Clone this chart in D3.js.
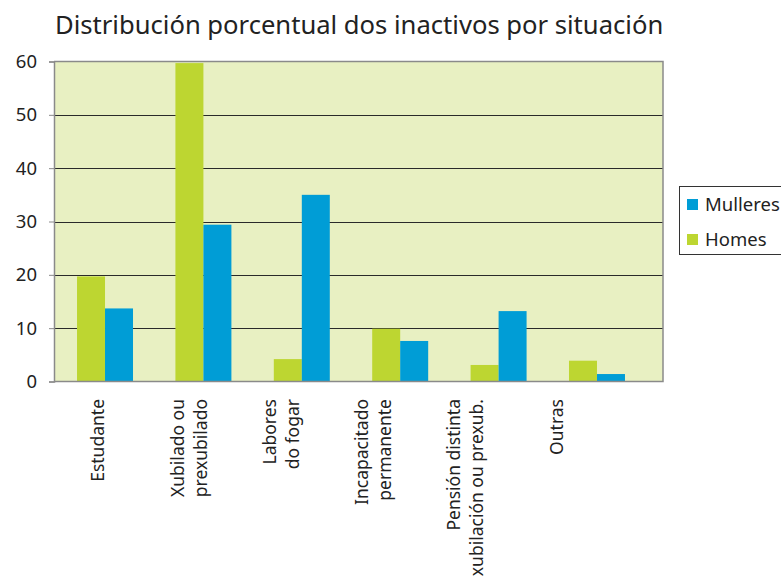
<!DOCTYPE html>
<html>
<head>
<meta charset="utf-8">
<script src="https://cdn.jsdelivr.net/npm/d3@7"></script>
<style>
  body { margin: 0; background: #fff; }
  svg { display: block; font-family: 'Noto Sans', sans-serif; }
</style>
</head>
<body>
<svg id="chart"></svg>
<script>
'use strict';

let WIDTH = 781;
let HEIGHT = 587;

// data
let categories = ['Estudante', 'Xubilado ou prexubilado', 'Labores do fogar',
    'Incapacitado permanente', 'Pensión distinta xubilación ou prexub.', 'Outras'];
let labelLines = [
    ['Estudante'],
    ['Xubilado ou', 'prexubilado'],
    ['Labores', 'do fogar'],
    ['Incapacitado', 'permanente'],
    ['Pensión distinta', 'xubilación ou prexub.'],
    ['Outras']
];
let homes = [19.7, 59.7, 4.2, 9.9, 3.1, 3.9];
let mulleres = [13.7, 29.4, 35.0, 7.6, 13.2, 1.4];
let seriesNames = ['Homes', 'Mulleres'];
let yTicks = [0, 10, 20, 30, 40, 50, 60];

let COLOR = {
    Homes: '#bdd631',
    Mulleres: '#009dd6',
    PLOT: '#e8f0c2'
};

let M = { left: 54, top: 61.5, right: 663, bottom: 381.5 };

let svg = d3.select('#chart').attr('width', WIDTH).attr('height', HEIGHT);

// bar groups do not fill the whole plot width in the original
let x = d3.scaleBand().domain(categories).range([M.left, 648]).paddingInner(0.431).paddingOuter(0.234);
let xs = d3.scaleBand().domain(seriesNames).range([0, x.bandwidth()]);
let y = d3.scaleLinear().domain([0, 60]).range([M.bottom, M.top]);
// the category labels sit on their own, slightly tighter spacing
let xl = d3.scalePoint().domain(categories).range([98, 557]);

// title
svg.append('text')
    .attr('x', 55).attr('y', 34)
    .attr('font-size', 25.6)
    .attr('fill', '#222')
    .text('Distribución porcentual dos inactivos por situación');

// plot background
svg.append('rect')
    .attr('x', M.left).attr('y', M.top)
    .attr('width', M.right - M.left).attr('height', M.bottom - M.top)
    .attr('fill', COLOR.PLOT);

// gridlines
svg.append('g')
    .selectAll('line')
    .data(yTicks.filter(function(d) { return d > 0 && d < 60; }))
    .enter()
    .append('line')
    .attr('x1', M.left).attr('x2', M.right)
    .attr('y1', function(d) { return Math.round(y(d)) + 0.5; })
    .attr('y2', function(d) { return Math.round(y(d)) + 0.5; })
    .attr('stroke', '#2a2a2a');

// bars
let rows = categories.map(function(c, i) {
    return { cat: c, values: [{ s: 'Homes', v: homes[i] }, { s: 'Mulleres', v: mulleres[i] }] };
});
svg.append('g')
    .selectAll('g')
    .data(rows)
    .enter()
    .append('g')
    .attr('transform', function(d) { return 'translate(' + x(d.cat) + ',0)'; })
    .selectAll('rect')
    .data(function(d) { return d.values; })
    .enter()
    .append('rect')
    .attr('x', function(d) { return xs(d.s); })
    .attr('y', function(d) { return y(d.v); })
    .attr('width', xs.bandwidth())
    .attr('height', function(d) { return y(0) - y(d.v); })
    .attr('fill', function(d) { return COLOR[d.s]; });

// plot frame (top, right, bottom)
svg.append('path')
    .attr('d', 'M' + M.left + ',' + M.top + 'H' + M.right + 'V' + M.bottom + 'H' + M.left)
    .attr('fill', 'none')
    .attr('stroke', '#8a8a8a')
    .attr('stroke-width', 1.5);

// y axis
let yAxis = svg.append('g')
    .attr('transform', 'translate(' + M.left + ',0)')
    .call(d3.axisLeft(y).tickValues(yTicks).tickSize(5).tickPadding(12));
yAxis.select('.domain').attr('stroke', '#8a8a8a').attr('stroke-width', 1.5);
yAxis.selectAll('.tick line').attr('stroke', '#8a8a8a');
yAxis.selectAll('.tick text')
    .attr('font-family', "'Noto Sans', sans-serif")
    .attr('font-size', 18.5)
    .attr('fill', '#222');

// x labels
let lab = svg.append('g')
    .selectAll('text')
    .data(categories)
    .enter()
    .append('text')
    .attr('transform', function(d) { return 'translate(' + xl(d) + ',399) rotate(-90)'; })
    .attr('text-anchor', 'end')
    .attr('font-size', 17.5)
    .attr('fill', '#222');
lab.each(function(d, i) {
    let lines = labelLines[i];
    let off = -(lines.length - 1) * 11.5;
    d3.select(this).selectAll('tspan')
        .data(lines)
        .enter()
        .append('tspan')
        .attr('x', 0)
        .attr('y', function(t, j) { return off + j * 23; })
        .attr('dy', '0.35em')
        .text(function(t) { return t; });
});

// legend
let legend = svg.append('g');
legend.append('rect')
    .attr('x', 679.5).attr('y', 186.5)
    .attr('width', 120).attr('height', 68)
    .attr('fill', '#fff')
    .attr('stroke', '#333');
let legendItems = ['Mulleres', 'Homes'];
legend.selectAll('g')
    .data(legendItems)
    .enter()
    .append('g')
    .attr('transform', function(d, i) { return 'translate(687,' + (199 + i * 35) + ')'; })
    .each(function(d) {
        let g = d3.select(this);
        g.append('rect').attr('width', 11).attr('height', 11).attr('fill', COLOR[d]);
        g.append('text').attr('x', 18).attr('y', 5.5).attr('dy', '0.35em')
            .attr('font-size', 18.5).attr('fill', '#222').text(d);
    });
</script>
</body>
</html>
